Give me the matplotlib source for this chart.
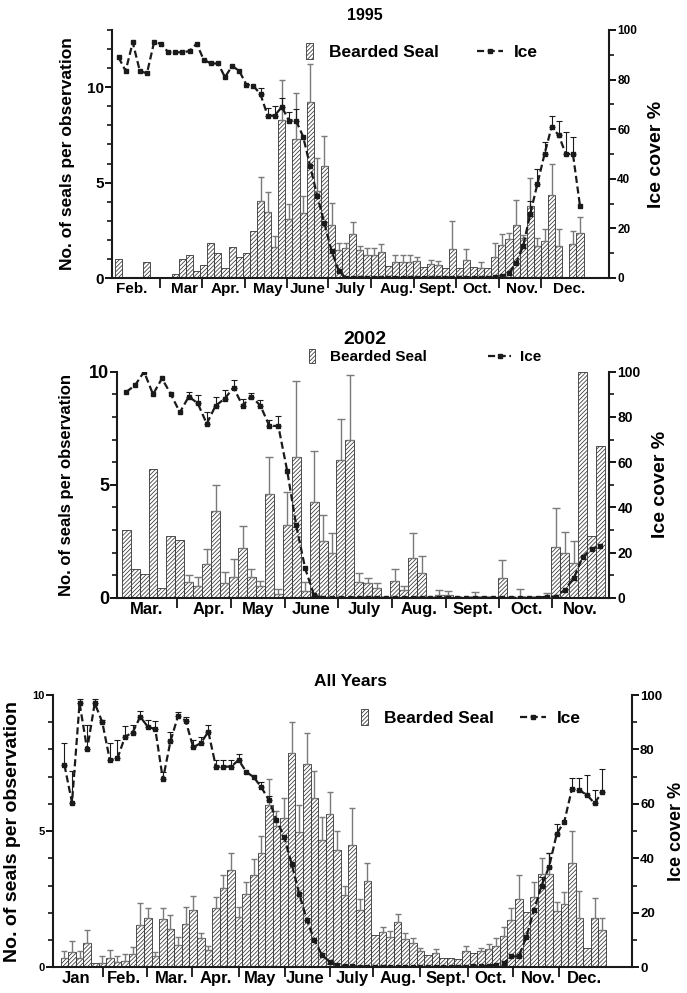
import numpy as np
import matplotlib.pyplot as plt
from matplotlib.patches import Patch, Rectangle
from matplotlib.lines import Line2D
from matplotlib.legend_handler import HandlerPatch
from matplotlib.ticker import MultipleLocator

plt.rcParams['font.family'] = ['Liberation Sans', 'DejaVu Sans']
plt.rcParams['font.weight'] = 'bold'
plt.rcParams['hatch.linewidth'] = 0.55

nan = np.nan

# ---- 1995: 5-day bins, Feb to Dec ----
seal_1995 = [1.0, nan, nan, nan, 0.82, nan, nan, nan, 0.2, 1.0,
             1.18, 0.35, 0.7, 1.85, 1.3, 0.55, 1.6, 1.1, 1.3, 2.45,
             4.05, 3.45, 1.65, 8.3, 3.1, 7.3, 3.4, 9.25, 4.55, 5.85,
             2.8, 1.45, 1.55, 2.3, 1.45, 1.2, 1.2, 1.35, 0.65, 0.85,
             0.85, 0.85, 0.9, 0.6, 0.75, 0.7, 0.55, 1.5, 0.55, 0.95,
             0.6, 0.55, 0.55, 1.1, 1.75, 2.05, 2.8, 2.1, 3.75, 1.7,
             1.95, 4.35, 1.7, nan, 1.8, 2.35]
seal_1995_hi = [nan] * 20 + [
             5.3, 4.5, 2.2, 10.4, 3.9, 9.7, 4.3, 11.2, 6.3, 7.45,
             3.95, 1.85, 1.85, 2.95, 1.7, 1.55, 1.55, 1.8, nan, 1.2,
             1.2, 1.2, 1.1, nan, 0.95, 0.9, nan, 3.0, nan, 1.5,
             nan, 0.85, nan, 1.85, 2.3, 2.35, 4.1, 2.25, 5.25, 2.1,
             2.55, 5.95, 2.55, nan, 2.45, 3.2]
ice_1995 = [89, 83.5, 95, 83.5, 82.5, 95, 94.5, 91, 91, 91,
            91.5, 94.5, 88, 86.5, 86.5, 81, 85.5, 83.5, 78, 77.5,
            74, 65.5, 65.5, 69, 63.5, 63.5, 57, 45, 33, 22,
            11, 3, 0, 0, 0, 0, 0, 0, 0, 0,
            0, 0, 0, 0, 0, 0, 0, 0, 0, 0,
            0, 0, 0, 0.3, 0.8, 2, 6, 13, 26, 38,
            50, 61, 57.5, 50, 50, 29]
ice_1995_hi = [nan] * 20 + [76.5, 68.5, 69.5, 72.5, 67, 68] + [nan] * 32 + [
               31, 44, 55, 65.5, 63.5, 59, 57, nan]
months_1995 = ["Feb.", "Mar", "Apr.", "May", "June", "July", "Aug.", "Sept.",
               "Oct.", "Nov.", "Dec."]
month_mid_1995 = [1.9, 9.3, 15.1, 21.0, 26.7, 32.6, 39.1, 44.9, 50.5, 56.8, 63.4]
month_edge_1995 = [5.8, 11.7, 17.8, 23.7, 29.5, 35.5, 41.6, 47.5, 53.6, 59.5]

# ---- 2002: 5-day bins, Mar to Nov ----
seal_2002 = [3.0, 1.28, 1.03, 5.69, 0.41, 2.74, 2.57, 0.71, 0.52, 1.49,
             3.85, 0.65, 0.91, 2.21, 0.93, 0.52, 4.6, 0.16, 3.23, 6.22,
             0.31, 4.25, 2.5, 1.98, 6.08, 7.0, 0.7, 0.63, 0.41, nan,
             0.75, 0.34, 1.77, 1.09, nan, 0.12, 0.1, nan, nan, 0.05,
             nan, nan, 0.86, nan, 0.05, nan, nan, 0.03, 2.23, 1.96,
             1.55, 10.0, 2.74, 6.71]
seal_2002_hi = [nan, nan, nan, nan, nan, nan, nan, 0.99, 0.9, 2.14,
                4.98, 1.12, 1.7, 3.16, 1.28, 0.72, 6.22, 0.37, 4.69, 9.6,
                0.68, 6.5, 3.64, 2.88, 7.9, 9.85, 1.08, 0.86, 0.63, nan,
                1.27, 0.53, 2.85, 1.84, nan, 0.35, 0.3, nan, nan, 0.25,
                nan, nan, 1.67, nan, 0.4, nan, nan, 0.22, 3.98, 2.92,
                2.5, nan, nan, nan]
ice_2002 = [91, 94, 100, 90, 97, 90, 82, 89, 86, 77,
            85, 88, 93, 85, 89, 85, 76, 76, 56, 32,
            13, 1, 0, 0, 0, 0, 0, 0, 0, 0,
            0, 0, 0, 0, 0, 0, 0, 0, 0, 0,
            0, 0, 0, 0, 0, 0, 0, 0.5, 0.5, 3.5,
            8.5, 18, 21.5, 23]
ice_2002_hi = [nan] * 7 + [91, 89.5, 82, 89, 92, 96.5, 88, 90.5, 87.5, 78.5, 80.5] + [nan] * 36
months_2002 = ["Mar.", "Apr.", "May", "June", "July", "Aug.", "Sept.", "Oct.", "Nov."]
month_mid_2002 = [2.3, 9.2, 14.7, 20.7, 26.6, 32.7, 38.7, 44.7, 50.7]
month_edge_2002 = [5.65, 11.72, 17.75, 23.64, 29.74, 35.7, 41.66, 47.55]

# ---- All years: 5-day bins, Jan to Dec ----
seal_all = [0.35, 0.58, 0.35, 0.88, 0.17, 0.17, 0.35, 0.2, 0.22, 0.5,
            1.55, 1.8, 0.4, 1.76, 1.42, 0.82, 1.58, 2.1, 1.06, 0.64,
            2.17, 2.93, 3.57, 1.86, 2.69, 3.39, 4.19, 5.96, 5.2, 5.47,
            7.88, 4.98, 7.47, 6.2, 4.68, 5.63, 4.3, 2.65, 4.49, 2.1,
            3.18, 1.19, 1.28, 1.1, 1.65, 1.05, 0.88, 0.6, 0.45, 0.53,
            0.35, 0.33, 0.3, 0.6, 0.53, 0.6, 0.66, 0.78, 1.15, 1.72,
            2.5, 2.02, 2.57, 3.43, 3.43, 2.07, 2.32, 3.82, 1.8, 0.7,
            1.82, 1.37]
seal_all_hi = [0.6, 0.98, 0.6, 1.37, nan, 0.42, 0.64, 0.43, 0.48, 0.76,
               2.35, 2.17, 0.55, 2.17, 1.92, 1.13, 2.2, 2.62, 1.27, 0.78,
               2.57, 3.38, 4.19, 2.23, 3.15, 3.97, 4.82, 6.9, 5.75, 6.2,
               9.0, 5.96, 8.6, 7.22, 5.53, 6.45, 5.0, 3.0, 5.84, 2.5,
               3.84, nan, 1.49, 1.35, 1.96, 1.27, 1.06, 0.72, nan, 0.66,
               nan, nan, nan, 0.78, nan, 0.7, 0.86, 1.06, 1.47, 2.17,
               3.39, nan, 3.15, 4.0, 4.19, 2.41, 2.78, 5.02, 2.8, nan,
               2.53, 1.8]
ice_all = [74.3, 60.5, 97, 80, 97, 90, 76, 76.7, 84.7, 86.2,
           92, 88.4, 87.4, 69, 83, 92.3, 90.6, 80.8, 82.3, 86.5,
           73.7, 73.7, 73.7, 76.1, 71.8, 69.8, 66.1, 61.4, 54, 48,
           38, 27, 17.4, 10, 4.5, 2.1, 0.9, 0.5, 0.3, 0.2,
           0.2, 0.1, 0.1, 0.1, 0.1, 0.1, 0.1, 0.1, 0.1, 0.1,
           0.1, 0.2, 0.2, 0.2, 0.3, 0.4, 0.6, 1.0, 1.5, 4,
           4, 11.3, 21, 30, 37, 49, 53.5, 65.4, 65, 63.3,
           60.2, 64.5]
ice_all_hi = [82.3, 72.2, 98.5, 89, 98.5, 91, 82.3, 83.5, 88.7, 89,
              94.2, 91, 90.6, 71.8, 86.5, 93.9, 92, 83.5, 84.7, 89,
              76.1, 76.1, 76.1, 78.3, nan, nan, 68.2, 62.9] + [nan] * 35 + [
              33, 42, 52.5, nan, 69.5, 69.5, 70.5, 65, 73]
months_all = ["Jan", "Feb.", "Mar.", "Apr.", "May", "June", "July", "Aug.",
              "Sept.", "Oct.", "Nov.", "Dec."]
month_mid_all = [1.5, 7.9, 14.2, 20.0, 25.8, 31.8, 38.0, 44.0, 50.4, 56.2, 62.5, 68.6]
month_edge_all = [5.05, 10.86, 16.8, 23.05, 29.12, 35.06, 40.78, 46.95, 53.33, 59.19, 65.34]

W, H = 687, 993
INK = "#1a1a1a"
HATCH_INK = "#333333"
ERR_GREY = "#7a7a7a"
HATCH = "////////"


def px_rect(left, top, right, bottom):
    return [left / W, 1 - bottom / H, (right - left) / W, (bottom - top) / H]


def narrow_patch(legend, orig_handle, xdescent, ydescent, width, height, fontsize):
    w = height * 0.55
    return Rectangle((width - w - xdescent - 4, -ydescent - height * 0.15), w, height * 1.3)


def panel(rect, xlim, ymax, seal, seal_hi, ice, ice_hi, months, mids, edges,
          sizes, leg_anchor, colspace, cap, ylab_x, ylab2_x):
    ax = fig.add_axes(px_rect(*rect))
    x = np.arange(len(seal))
    v = np.array(seal, dtype=float)
    hi = np.array(seal_hi, dtype=float)
    ax.bar(x, v, width=1.0, facecolor="white", edgecolor=HATCH_INK, linewidth=0.6,
           hatch=HATCH, zorder=2)
    m = ~np.isnan(hi)
    ax.errorbar(x[m], v[m], yerr=[np.zeros(m.sum()), hi[m] - v[m]], fmt="none",
                ecolor=ERR_GREY, elinewidth=1.0, capsize=cap, capthick=1.0, zorder=3)
    ax.set_xlim(*xlim)
    ax.set_ylim(0, ymax)

    ax2 = ax.twinx()
    iv = np.array(ice, dtype=float)
    ih = np.array(ice_hi, dtype=float)
    mi = ~np.isnan(ih)
    ax2.errorbar(x[mi], iv[mi], yerr=[np.zeros(mi.sum()), ih[mi] - iv[mi]], fmt="none",
                 ecolor=INK, elinewidth=0.8, capsize=2, capthick=0.8, zorder=3)
    ax2.plot(x, iv, color=INK, lw=1.6, dashes=(3.2, 1.6), marker="s", ms=2.4,
             zorder=4)
    ax2.set_ylim(0, 100)
    ax2.set_xlim(*xlim)

    for a in (ax, ax2):
        a.spines["top"].set_visible(False)
        for s in ("left", "right", "bottom"):
            a.spines[s].set_linewidth(1.5)
            a.spines[s].set_color(INK)
    ax2.spines["left"].set_visible(False)
    ax2.spines["bottom"].set_visible(False)
    ax.spines["right"].set_visible(False)

    f_lt, f_rt, f_mon, f_lab, f_lab2, f_leg = sizes
    ax.yaxis.set_major_locator(MultipleLocator(5))
    ax.yaxis.set_minor_locator(MultipleLocator(1))
    ax.tick_params(axis="y", which="major", length=5, width=1.3, labelsize=f_lt, pad=1)
    ax.tick_params(axis="y", which="minor", length=3.5, width=1.1)
    ax2.yaxis.set_major_locator(MultipleLocator(20))
    ax2.yaxis.set_minor_locator(MultipleLocator(10))
    ax2.tick_params(axis="y", which="major", length=5, width=1.3, labelsize=f_rt, pad=1)
    ax2.tick_params(axis="y", which="minor", length=3.5, width=1.1)

    ax.set_xticks(edges)
    ax.set_xticklabels([])
    ax.set_xticks(mids, minor=True)
    ax.set_xticklabels(months, minor=True, fontsize=f_mon, fontweight="bold")
    ax.tick_params(axis="x", which="major", length=7, width=1.2)
    ax.tick_params(axis="x", which="minor", length=0, pad=3)

    ax.set_ylabel("No. of seals per observation", fontsize=f_lab, fontweight="bold")
    ax.yaxis.set_label_coords(ylab_x, 0.5)
    ax2.set_ylabel("Ice cover %", fontsize=f_lab2, fontweight="bold")
    ax2.yaxis.set_label_coords(ylab2_x, 0.5)

    handles = [Patch(facecolor="white", edgecolor=HATCH_INK, hatch=HATCH, linewidth=0.6),
               Line2D([], [], color=INK, lw=1.6, dashes=(3.2, 1.6), marker="s", ms=2.4)]
    ax2.legend(handles, ["Bearded Seal", "Ice"], loc="center",
               bbox_to_anchor=leg_anchor, ncol=2, frameon=False,
               prop={"weight": "bold", "size": f_leg}, handlelength=1.5,
               handletextpad=0.6, columnspacing=colspace, borderaxespad=0,
               handler_map={Patch: HandlerPatch(patch_func=narrow_patch)})
    return ax, ax2


fig = plt.figure(figsize=(W / 100, H / 100), dpi=100)

panel((112, 30, 609, 278), (-0.92, 69.08), 13, seal_1995, seal_1995_hi, ice_1995,
      ice_1995_hi, months_1995, month_mid_1995, month_edge_1995,
      (11, 8.5, 11, 12.5, 14, 12.5), (0.61, 0.91), 2.2, 2.5, -0.075, 1.078)
fig.text(365 / W, 1 - 16 / H, "1995", ha="center", va="center", fontsize=11.5,
         fontweight="bold")

panel((117.3, 371.7, 609, 597.7), (-0.99, 53.95), 10, seal_2002, seal_2002_hi, ice_2002,
      ice_2002_hi, months_2002, month_mid_2002, month_edge_2002,
      (13, 10, 12, 12, 14, 11), (0.615, 1.065), 4.0, 3.0, -0.088, 1.088)
fig.text(365 / W, 1 - 340 / H, "2002", ha="center", va="center", fontsize=14,
         fontweight="bold")

panel((53.3, 695, 631.7, 967.3), (-1.47, 74.9), 10, seal_all, seal_all_hi, ice_all,
      ice_all_hi, months_all, month_mid_all, month_edge_all,
      (8, 9.5, 12, 14, 13, 12.5), (0.71, 0.915), 1.5, 2.5, -0.055, 1.063)
fig.text(350 / W, 1 - 681 / H, "All Years", ha="center", va="center", fontsize=12.5,
         fontweight="bold")

fig.savefig("out.png", dpi=100, facecolor="white")
